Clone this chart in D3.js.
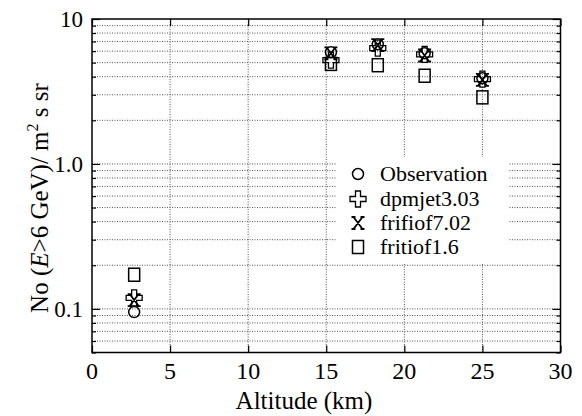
<!DOCTYPE html>
<html><head><meta charset="utf-8">
<script src="https://cdn.jsdelivr.net/npm/d3@7"></script>
<style>body{margin:0;background:#fff}svg{display:block}text{font-family:"Liberation Serif","Times New Roman",serif;fill:#000}</style>
</head><body><svg id="c" width="582" height="416"></svg>
<script>
const altitude = [2.7, 15.3, 18.3, 21.3, 25.0];
const observation = [0.095, 5.9, 6.7, 5.8, 3.9];
const dpmjet = [0.119, 5.2, 6.3, 5.7, 3.85];
const frifiof702 = [0.115, 5.8, 6.6, 5.6, 3.8];
const fritiof16 = [0.172, 4.9, 4.8, 4.06, 2.88];
const seriesNames = ["Observation", "dpmjet3.03", "frifiof7.02", "fritiof1.6"];
const xTicks = [0, 5, 10, 15, 20, 25, 30];
const yTicks = [0.1, 1.0, 10];
const yTickLabels = ["0.1", "1.0", "10"];

const svg = d3.select("#c");
const L = 92, R = 560.5, T = 19, B = 352.5;
const x = d3.scaleLinear().domain([0, 30]).range([L, R]);
const y = d3.scaleLog().domain([0.05, 10]).range([B, T]);

const minor = [];
[0.01, 0.1, 1].forEach(d => { for (let k = 2; k <= 9; k++) { const v = d * k; if (v >= 0.05 && v < 10) minor.push(v); } });
const gridVals = minor.concat([0.1, 1]);

// gridlines
const g = svg.append("g");
g.selectAll(".hg").data(gridVals).join("line")
  .attr("x1", L).attr("x2", R).attr("y1", d => y(d)).attr("y2", d => y(d))
  .attr("stroke", "#555").attr("stroke-width", 1).attr("stroke-dasharray", "1,1.5");
g.selectAll(".vg").data(xTicks.slice(1, -1)).join("line")
  .attr("x1", d => x(d)).attr("x2", d => x(d)).attr("y1", T).attr("y2", B)
  .attr("stroke", "#555").attr("stroke-width", 1).attr("stroke-dasharray", "1,1.5");

// legend background
svg.append("rect").attr("x", 337).attr("y", 157).attr("width", 172).attr("height", 107).attr("fill", "#fff");

// axes with inward ticks
const ax = svg.append("g");
ax.append("g").attr("transform", `translate(0,${B})`).call(d3.axisBottom(x).tickValues(xTicks).tickSizeInner(-7).tickSizeOuter(0).tickFormat(""));
ax.append("g").attr("transform", `translate(0,${T})`).call(d3.axisTop(x).tickValues(xTicks).tickSizeInner(-7).tickSizeOuter(0).tickFormat(""));
ax.append("g").attr("transform", `translate(${L},0)`).call(d3.axisLeft(y).tickValues(yTicks).tickSizeInner(-8).tickSizeOuter(0).tickFormat(""));
ax.append("g").attr("transform", `translate(${R},0)`).call(d3.axisRight(y).tickValues(yTicks).tickSizeInner(-8).tickSizeOuter(0).tickFormat(""));
ax.append("g").attr("transform", `translate(${L},0)`).call(d3.axisLeft(y).tickValues(minor).tickSizeInner(-4).tickSizeOuter(0).tickFormat(""));
ax.append("g").attr("transform", `translate(${R},0)`).call(d3.axisRight(y).tickValues(minor).tickSizeInner(-4).tickSizeOuter(0).tickFormat(""));
ax.selectAll(".domain").remove();
ax.selectAll("line").attr("stroke", "#000").attr("stroke-width", 1.2);
svg.append("rect").attr("x", L).attr("y", T).attr("width", R - L).attr("height", B - T)
  .attr("fill", "none").attr("stroke", "#000").attr("stroke-width", 1.5);

// tick labels
svg.selectAll(".xl").data(xTicks).join("text")
  .attr("x", d => x(d)).attr("y", 379).attr("text-anchor", "middle").attr("font-size", 24).text(d => d);
svg.selectAll(".yl").data(yTicks).join("text")
  .attr("x", 83).attr("y", d => y(d) + 8).attr("text-anchor", "end").attr("font-size", 23)
  .text((d, i) => yTickLabels[i]);

// axis titles
svg.append("text").attr("x", 304).attr("y", 409).attr("text-anchor", "middle").attr("font-size", 25).text("Altitude (km)");
const yt = svg.append("text").attr("transform", "translate(48,198) rotate(-90)").attr("text-anchor", "middle").attr("font-size", 25);
yt.append("tspan").text("No (");
yt.append("tspan").attr("font-style", "italic").text("E");
yt.append("tspan").text(">6 GeV)/ m");
yt.append("tspan").attr("dy", -10).attr("font-size", 16).text("2");
yt.append("tspan").attr("dy", 10).text(" s sr");

// markers
const sw = 1.5;
function circ(sel) { sel.append("circle").attr("r", 5.5).attr("fill", "none").attr("stroke", "#000").attr("stroke-width", sw); }
function plus(sel) {
  const a = 2.5, b = 8;
  sel.append("path").attr("d", `M${-a},${-b}H${a}V${-a}H${b}V${a}H${a}V${b}H${-a}V${a}H${-b}V${-a}H${-a}Z`)
    .attr("fill", "none").attr("stroke", "#000").attr("stroke-width", 1.3);
}
function cross(sel) {
  sel.append("path").attr("d", "M-4.5,-6L4.5,6M4.5,-6L-4.5,6M-6.5,-6H-2.5M2.5,-6H6.5M-6.5,6H-2.5M2.5,6H6.5")
    .attr("fill", "none").attr("stroke", "#000").attr("stroke-width", 1.8);
}
function sq(sel) { sel.append("rect").attr("x", -5.5).attr("y", -6.5).attr("width", 11).attr("height", 13).attr("fill", "none").attr("stroke", "#000").attr("stroke-width", sw); }
const drawers = [circ, plus, cross, sq];
const series = [observation, dpmjet, frifiof702, fritiof16];

[fritiof16, dpmjet, frifiof702, observation].forEach(s => {
  const idx = series.indexOf(s);
  s.forEach((v, i) => {
    const gg = svg.append("g").attr("transform", `translate(${x(altitude[i])},${y(v)})`);
    drawers[idx](gg);
  });
});

// legend
const legY = [174, 199, 223, 247];
seriesNames.forEach((n, i) => {
  const gg = svg.append("g").attr("transform", `translate(358,${legY[i]})`);
  drawers[i](gg);
  svg.append("text").attr("x", 380).attr("y", legY[i] + 7).attr("font-size", 22).text(n);
});
</script></body></html>
